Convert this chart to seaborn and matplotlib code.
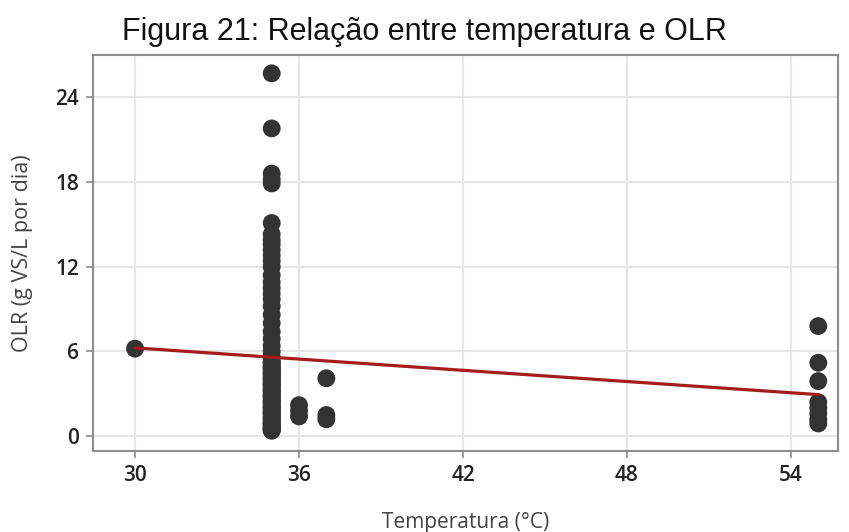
import matplotlib
matplotlib.use("Agg")
import matplotlib.pyplot as plt
import seaborn as sns
import pandas as pd

temp_30 = [30]
olr_30 = [6.2]
olr_35 = [25.7, 21.8, 18.6, 18.2, 17.9,
          15.1, 14.3, 13.9, 13.6, 13.2, 12.8, 12.4, 12.0, 11.4, 10.9, 10.5,
          10.1, 9.7, 9.2, 8.6, 8.0, 7.4, 6.9, 6.4, 6.0, 5.6, 5.2, 4.8, 4.4,
          4.0, 3.6, 3.2, 2.8, 2.4, 2.0, 1.6, 1.2, 0.9, 0.6, 0.4,
          0.4, 0.5, 0.5, 0.6, 0.7, 0.8, 0.9, 1.0, 1.2, 1.3, 1.4, 1.6, 1.7, 1.8,
          2.0, 2.1, 2.2, 2.4, 2.5, 2.6, 2.8, 2.9, 3.0, 3.2, 3.3, 3.4, 3.6, 3.7,
          3.8, 4.0, 4.1, 4.2, 4.4, 4.5, 4.6, 4.8, 4.9, 5.0, 5.2, 5.3]
olr_36 = [2.2, 1.8, 1.4]
olr_37 = [4.1, 1.5, 1.2]
olr_55 = [7.8, 5.2, 3.9, 2.4, 2.0, 1.6, 1.2, 0.9]

temperatura = (temp_30 + [35] * len(olr_35) + [36] * len(olr_36)
               + [37] * len(olr_37) + [55] * len(olr_55))
olr = olr_30 + olr_35 + olr_36 + olr_37 + olr_55
df = pd.DataFrame({"Temperatura": temperatura, "OLR": olr})

x_ticks = [30, 36, 42, 48, 54]
y_ticks = [0, 6, 12, 18, 24]

sns.set_theme(style="whitegrid")
plt.rcParams["font.family"] = ["Open Sans", "DejaVu Sans"]

fig = plt.figure(figsize=(8.49, 5.32), dpi=100)
ax = fig.add_axes([0.1095, 0.152, 0.8775, 0.7446])

sns.regplot(data=df, x="Temperatura", y="OLR", ax=ax, ci=None,
            scatter_kws=dict(s=165, color="#333333", alpha=1, edgecolor="none", zorder=3),
            line_kws=dict(color="#a51c1c", lw=2.3, zorder=4))

ax.set_xlim(28.46, 55.72)
ax.set_ylim(-1.06, 27.0)
ax.set_xticks(x_ticks)
ax.set_yticks(y_ticks)
ax.set_xticklabels([str(v) for v in x_ticks])
ax.set_yticklabels([str(v) for v in y_ticks])
ax.grid(True, color="#e6e6e6", lw=1.5)
for s in ax.spines.values():
    s.set_visible(True)
    s.set_color("#8c8c8c")
    s.set_linewidth(1.5)
ax.tick_params(axis="both", which="major", length=5, width=1.2, color="#8c8c8c",
               labelsize=15, labelcolor="#222222", pad=5, bottom=True, left=True)
for lab in ax.get_xticklabels() + ax.get_yticklabels():
    lab.set_fontweight("semibold")
ax.set_xlabel("Temperatura (°C)", fontsize=15, color="#444444", labelpad=19)
ax.set_ylabel("OLR (g VS/L por dia)", fontsize=15.5, color="#444444", labelpad=16)

fig.suptitle("Figura 21: Relação entre temperatura e OLR",
             family=["Liberation Sans", "DejaVu Sans"], fontsize=22, color="#111111",
             x=0.5, y=0.968, va="top")

fig.savefig("out.png", dpi=100)
